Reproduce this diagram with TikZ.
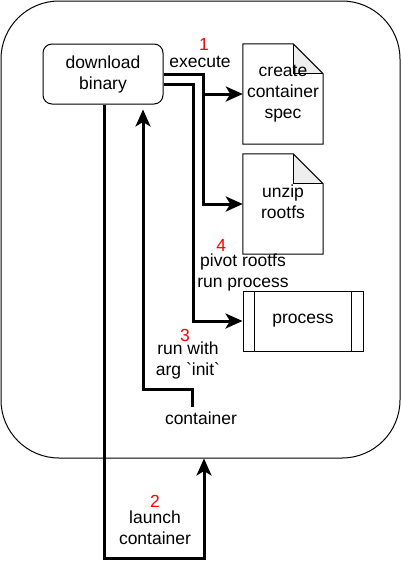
\documentclass[tikz,border=0pt]{standalone}
\usepackage{fontspec}
\setmainfont{Liberation Sans}
\usetikzlibrary{arrows.meta,calc}
\newcommand\lblfont{\fontsize{17.5}{21}\selectfont}
\definecolor{foldgray}{HTML}{EEEEEE}
\begin{document}
\begin{tikzpicture}[x=1pt,y=-1pt,
  font=\lblfont,
  shapeline/.style={draw,line width=1pt},
  bigbox/.style={shapeline,rounded corners=58pt,minimum width=399pt,minimum height=457pt,inner sep=0pt},
  binbox/.style={shapeline,rounded corners=9pt,minimum width=120pt,minimum height=60pt,align=center,inner sep=0pt},
  docshape/.style={minimum width=80pt,minimum height=100pt,inner sep=0pt},
  procbox/.style={shapeline,minimum width=120pt,minimum height=60pt,inner sep=0pt},
  txt/.style={align=center,inner sep=0pt},
  arr/.style={line width=3pt,-{Stealth[length=17pt,width=15pt,inset=4.5pt]}}
]
\useasboundingbox (0,0) rectangle (401,571);

% container
\node[bigbox] (cont) at (200.5,229.5) {};
\node[anchor=base,inner sep=0pt] (ctext) at (201,424) {container};

% download binary
\node[binbox] (bin) at (103,74) {download\\binary};

% documents
\node[docshape] (spec) at (283,94) {};
\node[docshape] (unzip) at (283,204) {};
\foreach \d in {spec,unzip}{
  \fill[foldgray] ($(\d.north east)+(-30,0)$) -- ($(\d.north east)+(-30,30)$) -- ($(\d.north east)+(0,30)$) -- cycle;
  \draw[line width=1pt] ($(\d.north east)+(-30,0)$) -- ($(\d.north east)+(-30,30)$) -- ($(\d.north east)+(0,30)$);
  \draw[line width=1pt] (\d.north west) -- ($(\d.north east)+(-30,0)$) -- ($(\d.north east)+(0,30)$) -- (\d.south east) -- (\d.south west) -- cycle;
}
\node[txt] (spectext) at (spec.center) {create\\container\\spec};
\node[txt] (unziptext) at ($(unzip.center)+(0,-2)$) {unzip\\rootfs};

% process
\node[procbox] (proc) at (303,321) {process};
\draw[line width=1pt] ($(proc.north west)+(12,0)$) -- ($(proc.south west)+(12,0)$);
\draw[line width=1pt] ($(proc.north east)+(-12,0)$) -- ($(proc.south east)+(-12,0)$);

% connectors
\draw[arr] (bin.east) -- ++(40,0) |- (spec.west);
\draw[arr] (bin.east) -- ++(40,0) |- (unzip.west);
\draw[arr] ([yshift=-10pt]bin.east) -- ++(30,0) |- (proc.west);
\coordinate (c2) at (204,558);
\draw[arr] ([xshift=1pt]bin.south) |- (c2) -- (c2 |- cont.south);
\coordinate (c3) at (192,407);
\draw[arr,shorten >=5pt] (c3) -- ++(0,-18) -| ([xshift=40pt]bin.south);

% labels
\node[txt] (l1) at (200,53.3) {\hspace*{8pt}\textcolor{red}{1}\\[-4.5pt]execute};
\node[txt] (l4) at (243,265.2) {\llap{\textcolor{red}{4}\hspace{17pt}}\\[-5.5pt]pivot rootfs\\run process};
\node[txt] (l3) at (188,354) {\textcolor{red}{3}\hspace*{6pt}\\[-7.8pt]run with\\arg \textasciigrave init\textasciigrave};
\node[txt] (l2) at (155,520) {\textcolor{red}{2}\\[-5.5pt]launch\\container};
\end{tikzpicture}
\end{document}
